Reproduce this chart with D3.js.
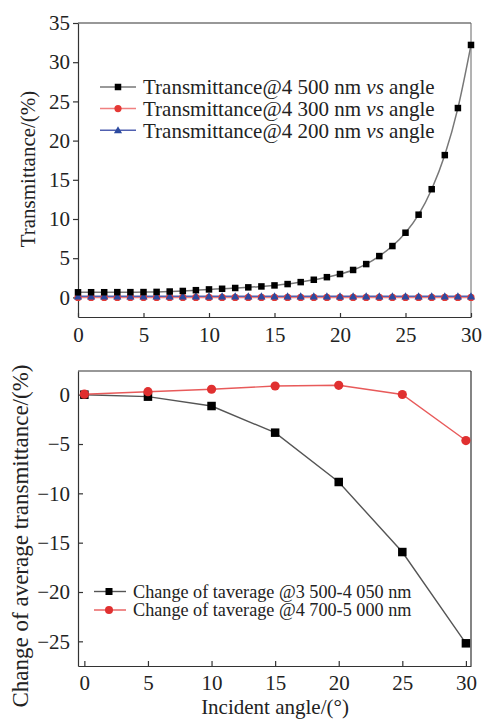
<!DOCTYPE html>
<html>
<head>
<meta charset="utf-8">
<script src="https://cdn.jsdelivr.net/npm/d3@7"></script>
<style>
  body { margin: 0; background: #fff; }
  .axis path, .axis line { stroke: #333; stroke-width: 1.2; }
</style>
</head>
<body>
<svg id="chart" width="482" height="720" font-family="Liberation Serif"></svg>
<script>
// ── Data ─────────────────────────────────────────────────────────────────────
// top panel: transmittance vs incident angle (0–30°, step 1)
const angles = d3.range(0, 31);
const t4500 = [0.65, 0.66, 0.66, 0.67, 0.67, 0.68, 0.7, 0.75, 0.82, 0.92, 1.02,
               1.1, 1.2, 1.28, 1.4, 1.53, 1.7, 1.95, 2.25, 2.58, 2.98,
               3.5, 4.25, 5.27, 6.55, 8.25, 10.55, 13.8, 18.15, 24.15, 32.2];
const t4300 = angles.map(() => 0.0);
const t4200 = angles.map(() => 0.15);

// bottom panel: change of average transmittance vs angle
const angles2 = [0, 5, 10, 15, 20, 25, 30];
const dAvg3500 = [0, -0.2, -1.15, -3.85, -8.85, -15.95, -25.2];
const dAvg4700 = [0.05, 0.3, 0.55, 0.88, 0.95, 0.02, -4.65];

const xTicks = [0, 5, 10, 15, 20, 25, 30];
const yTicksTop = [0, 5, 10, 15, 20, 25, 30, 35];
const yTicksBot = [0, -5, -10, -15, -20, -25];

const legendTop = ["4 500", "4 300", "4 200"];
const legendBot = ["Change of taverage @3 500-4 050 nm", "Change of taverage @4 700-5 000 nm"];

const FONT = "Liberation Serif";
const svg = d3.select("#chart");
const minus = d => d < 0 ? "\u2212" + Math.abs(d) : String(d);

// marker helpers
function square(g, x, y, s, fill) {
  g.append("rect").attr("x", x - s / 2).attr("y", y - s / 2)
    .attr("width", s).attr("height", s).attr("fill", fill);
}
function circle(g, x, y, r, fill) {
  g.append("circle").attr("cx", x).attr("cy", y).attr("r", r).attr("fill", fill);
}
function triangle(g, x, y, s, fill) {
  g.append("path").attr("d", d3.symbol(d3.symbolTriangle, s * s * 0.45)())
    .attr("transform", `translate(${x},${y + 0.8})`).attr("fill", fill);
}
function styleAxis(a) {
  a.attr("font-family", FONT);
  a.selectAll("text").attr("font-size", "21px").attr("fill", "#222");
}

// ── Top panel ────────────────────────────────────────────────────────────────
{
  const x = d3.scaleLinear().domain([0, 30]).range([78, 471]);
  const y = d3.scaleLinear().domain([-2.5, 35]).range([317, 23]);
  const g = svg.append("g");

  // frame
  g.append("line").attr("x1", 78).attr("x2", 471).attr("y1", 23).attr("y2", 23).attr("stroke", "#333").attr("stroke-width", 1.2);
  g.append("line").attr("x1", 471).attr("x2", 471).attr("y1", 23).attr("y2", 317).attr("stroke", "#666").attr("stroke-width", 1);

  const ax = g.append("g").attr("class", "axis").attr("transform", "translate(0,317)")
    .call(d3.axisBottom(x).tickValues(xTicks).tickSizeInner(-4).tickSizeOuter(0).tickPadding(10));
  styleAxis(ax);
  const ay = g.append("g").attr("class", "axis").attr("transform", "translate(78,0)")
    .call(d3.axisLeft(y).tickValues(yTicksTop).tickSizeInner(5).tickSizeOuter(0).tickPadding(3));
  styleAxis(ay);

  g.append("text").attr("transform", "rotate(-90)")
    .attr("x", -169).attr("y", 35).attr("text-anchor", "middle")
    .attr("font-size", "21px").attr("fill", "#222").text("Transmittance/(%)");

  const line = d3.line().x((d, i) => x(angles[i])).y(d => y(d));
  g.append("path").datum(t4300).attr("d", line).attr("fill", "none").attr("stroke", "#f08080").attr("stroke-width", 1.5);
  g.append("path").datum(t4200).attr("d", line).attr("fill", "none").attr("stroke", "#5060b0").attr("stroke-width", 1.5);
  g.append("path").datum(t4500).attr("d", d3.line().curve(d3.curveMonotoneX).x((d, i) => x(angles[i])).y(d => y(d)))
    .attr("fill", "none").attr("stroke", "#777").attr("stroke-width", 1.5);

  t4300.forEach((v, i) => circle(g, x(angles[i]), y(v), 3.6, "#e53935"));
  t4200.forEach((v, i) => triangle(g, x(angles[i]), y(v), 8, "#2c4aa0"));
  t4500.forEach((v, i) => square(g, x(angles[i]), y(v), 6.5, "#000"));

  // legend
  const lg = g.append("g");
  const cols = [["#777", "#000"], ["#f08080", "#e53935"], ["#5060b0", "#2c4aa0"]];
  legendTop.forEach((wl, i) => {
    const yy = 87 + i * 21.6;
    lg.append("line").attr("x1", 100).attr("x2", 136).attr("y1", yy).attr("y2", yy)
      .attr("stroke", cols[i][0]).attr("stroke-width", 1.5);
    if (i === 0) square(lg, 118, yy, 6.5, cols[i][1]);
    if (i === 1) circle(lg, 118, yy, 3.6, cols[i][1]);
    if (i === 2) triangle(lg, 118, yy, 8, cols[i][1]);
    const t = lg.append("text").attr("x", 143).attr("y", yy).attr("dy", "0.35em")
      .attr("font-size", "21px").attr("fill", "#222");
    t.append("tspan").text(`Transmittance@${wl} nm `);
    t.append("tspan").attr("font-style", "italic").text("vs");
    t.append("tspan").text(" angle");
  });
}

// ── Bottom panel ─────────────────────────────────────────────────────────────
{
  const x = d3.scaleLinear().domain([-0.5, 30.4]).range([78, 471]);
  const y = d3.scaleLinear().domain([-27.5, 2.4]).range([666, 371]);
  const g = svg.append("g");

  g.append("line").attr("x1", 78).attr("x2", 471).attr("y1", 371).attr("y2", 371).attr("stroke", "#333").attr("stroke-width", 1.2);
  g.append("line").attr("x1", 471).attr("x2", 471).attr("y1", 371).attr("y2", 666).attr("stroke", "#333").attr("stroke-width", 1.2);

  const ax = g.append("g").attr("class", "axis").attr("transform", "translate(0,666)")
    .call(d3.axisBottom(x).tickValues(xTicks).tickSizeInner(-5).tickSizeOuter(0).tickPadding(9));
  styleAxis(ax);
  const ay = g.append("g").attr("class", "axis").attr("transform", "translate(78,0)")
    .call(d3.axisLeft(y).tickValues(yTicksBot).tickFormat(minus).tickSizeInner(-5).tickSizeOuter(0).tickPadding(8));
  styleAxis(ay);

  g.append("text").attr("transform", "rotate(-90)")
    .attr("x", -536).attr("y", 28).attr("text-anchor", "middle")
    .attr("font-size", "23px").attr("fill", "#222").text("Change of average transmittance/(%)");
  g.append("text").attr("x", 275).attr("y", 714).attr("text-anchor", "middle")
    .attr("font-size", "21px").attr("fill", "#222").text("Incident angle/(\u00b0)");

  const line = d3.line().x((d, i) => x(angles2[i])).y(d => y(d));
  g.append("path").datum(dAvg3500).attr("d", line).attr("fill", "none").attr("stroke", "#555").attr("stroke-width", 1.4);
  g.append("path").datum(dAvg4700).attr("d", line).attr("fill", "none").attr("stroke", "#e85a5a").attr("stroke-width", 1.4);
  dAvg3500.forEach((v, i) => square(g, x(angles2[i]), y(v), 8.5, "#000"));
  dAvg4700.forEach((v, i) => circle(g, x(angles2[i]), y(v), 4.6, "#e03030"));

  const lg = g.append("g");
  const cols = [["#555", "#000"], ["#e85a5a", "#e03030"]];
  legendBot.forEach((lbl, i) => {
    const yy = 591.5 + i * 18.5;
    lg.append("line").attr("x1", 94).attr("x2", 126).attr("y1", yy).attr("y2", yy)
      .attr("stroke", cols[i][0]).attr("stroke-width", 1.4);
    if (i === 0) square(lg, 109, yy, 7, cols[i][1]);
    else circle(lg, 109, yy, 4, cols[i][1]);
    lg.append("text").attr("x", 133).attr("y", yy).attr("dy", "0.33em")
      .attr("font-size", "18.2px").attr("fill", "#222").text(lbl);
  });
}
</script>
</body>
</html>
